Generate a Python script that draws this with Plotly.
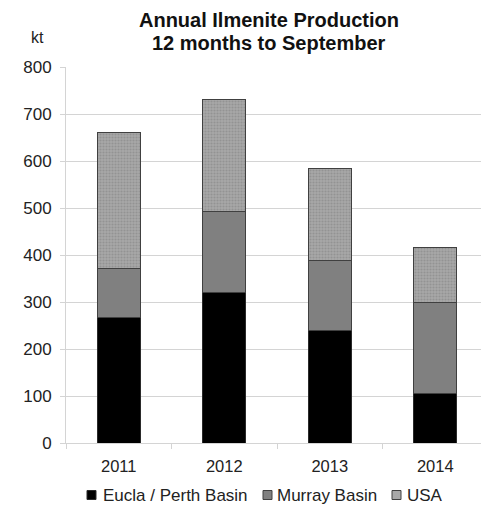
import plotly.graph_objects as go

years = ["2011", "2012", "2013", "2014"]
eucla_perth = [268, 320, 240, 105]
murray = [103, 173, 148, 194]
usa = [289, 238, 196, 117]
y_ticks = [0, 100, 200, 300, 400, 500, 600, 700, 800]
series_names = ["Eucla / Perth Basin", "Murray Basin", "USA"]

FONT = "Liberation Sans, Arial, sans-serif"
# page body has an 8px margin, so the figure is 8px smaller than the window
W, H = 481, 500
ML, MR, MT, MB = 58, 1, 59, 65
PW = W - ML - MR
PH = H - MT - MB

def px(x):
    return (x - ML) / PW

def py(y):
    return (H - MB - y) / PH

fills = ["#000000", "#808080", "#a8a8a8"]
edges = ["#2a2a2a", "#404040", "#404040"]

fig = go.Figure()
fig.add_trace(go.Bar(x=years, y=eucla_perth, name=series_names[0],
                     marker=dict(color=fills[0], line=dict(color=edges[0], width=1))))
fig.add_trace(go.Bar(x=years, y=murray, name=series_names[1],
                     marker=dict(color=fills[1], line=dict(color=edges[1], width=1))))
fig.add_trace(go.Bar(x=years, y=usa, name=series_names[2],
                     marker=dict(color=fills[2], line=dict(color=edges[2], width=1),
                                 pattern=dict(shape=".", bgcolor="#a8a8a8", fgcolor="#7e7e7e",
                                              size=3, solidity=0.4, fillmode="overlay"))))

# legend drawn as swatches + labels (compact spacing like the original)
sw_left = [79, 255, 384]
txt_left = [93, 267, 397]
leg_cy = 487
shapes = []
annotations = []
for name, f, e, sx, tx in zip(series_names, fills, edges, sw_left, txt_left):
    shapes.append(dict(type="rect", xref="paper", yref="paper",
                       x0=px(sx), x1=px(sx + 9), y0=py(leg_cy - 4.5), y1=py(leg_cy + 4.5),
                       fillcolor=f, line=dict(color=e, width=1)))
    annotations.append(dict(text=name, xref="paper", yref="paper", x=px(tx), y=py(leg_cy),
                            xanchor="left", yanchor="middle", showarrow=False,
                            font=dict(family=FONT, size=17, color="#222222")))

annotations.append(dict(text="kt", xref="paper", yref="paper", x=px(29), y=py(29),
                        xanchor="center", yanchor="middle", showarrow=False,
                        font=dict(family=FONT, size=16, color="#222222")))
annotations.append(dict(text="<b>12 months to September</b>", xref="paper", yref="paper",
                        x=px(261), y=py(34.5), xanchor="center", yanchor="middle", showarrow=False,
                        font=dict(family=FONT, size=20, color="#111111")))

fig.update_layout(
    barmode="stack",
    bargap=0.59,
    width=W, height=H,
    margin=dict(l=ML, r=MR, t=MT, b=MB),
    paper_bgcolor="white", plot_bgcolor="white",
    font=dict(family=FONT, size=17, color="#222222"),
    title=dict(text="<b>Annual Ilmenite Production</b>",
               x=261 / W, xanchor="center", xref="container",
               y=1 - 12 / H, yanchor="middle", yref="container",
               font=dict(family=FONT, size=20, color="#111111")),
    showlegend=False,
    shapes=shapes,
    annotations=annotations,
)
fig.update_yaxes(range=[0, 800], tickvals=y_ticks, showgrid=True, gridcolor="#d4d4d4", gridwidth=1,
                 showline=True, linecolor="#d4d4d4", linewidth=1, ticks="outside", ticklen=5,
                 tickcolor="#d4d4d4", zeroline=False, ticklabelstandoff=5,
                 tickfont=dict(family=FONT, size=17, color="#222222"))
fig.update_xaxes(showline=True, linecolor="#d4d4d4", linewidth=1, ticks="outside", ticklen=5,
                 tickcolor="#d4d4d4", tickson="boundaries", showgrid=False, ticklabelstandoff=8,
                 tickfont=dict(family=FONT, size=16.5, color="#222222"))

fig.write_html("out.html")
